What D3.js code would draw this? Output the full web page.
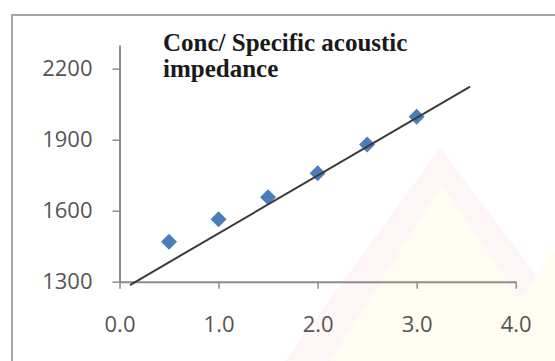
<!DOCTYPE html>
<html>
<head>
<meta charset="utf-8">
<script src="https://cdn.jsdelivr.net/npm/d3@7"></script>
<style>
  html, body { margin: 0; padding: 0; background: #ffffff; }
  svg { display: block; }
</style>
</head>
<body>
<svg id="chart" width="555" height="361"></svg>
<script>
// Concentration vs specific acoustic impedance
const conc = [0.5, 1.0, 1.5, 2.0, 2.5, 3.0];
const impedance = [1469, 1564, 1657, 1758, 1880, 1997];

// straight reference line drawn through the series
const lineConc = [0.106, 3.54];
const lineImpedance = [1286, 2124];

const xTicks = [0, 1, 2, 3, 4];
const yTicks = [1300, 1600, 1900, 2200];
const titleLines = ["Conc/ Specific acoustic", "impedance"];

const svg = d3.select("#chart");

// chart area frame
svg.append("rect")
  .attr("x", 12).attr("y", 15)
  .attr("width", 560).attr("height", 360)
  .attr("fill", "#ffffff")
  .attr("stroke", "#a6a6a6")
  .attr("stroke-width", 2);

// faint background emblem
const bg = svg.append("g").attr("pointer-events", "none");
bg.append("path")
  .attr("d", "M285,361 L440,148 L555,300 L555,361 Z")
  .attr("fill", "#fef6f6");
bg.append("path")
  .attr("d", "M330,361 L442,185 L520,300 L555,250 L555,361 Z")
  .attr("fill", "#fffdf1");

const x = d3.scaleLinear().domain([0, 4]).range([119.5, 515.7]);
const y = d3.scaleLinear().domain([1300, 2300]).range([281.7, 45]);

const axisColor = "#8c8c8c";
const labelColor = "#555555";
const tickFont = "'Open Sans', sans-serif";

// y axis
const gy = svg.append("g")
  .attr("transform", `translate(${x(0)},0)`)
  .call(d3.axisLeft(y).tickValues(yTicks).tickSize(7).tickPadding(20)
    .tickFormat(d3.format("d")).tickSizeOuter(0));
gy.select(".domain").attr("stroke", axisColor).attr("stroke-width", 2);
gy.selectAll(".tick line").attr("stroke", axisColor).attr("stroke-width", 1.5);
gy.selectAll(".tick text")
  .attr("fill", labelColor)
  .style("font-family", tickFont)
  .style("font-size", "22px");

// x axis
const gx = svg.append("g")
  .attr("transform", `translate(0,${y(1300)})`)
  .call(d3.axisBottom(x).tickValues(xTicks).tickSize(7).tickPadding(26)
    .tickFormat(d3.format(".1f")).tickSizeOuter(0));
gx.select(".domain").attr("stroke", axisColor).attr("stroke-width", 2);
gx.selectAll(".tick line").attr("stroke", axisColor).attr("stroke-width", 1.5);
gx.selectAll(".tick text")
  .attr("fill", labelColor)
  .attr("dy", "0.32em")
  .attr("y", 43)
  .style("font-family", tickFont)
  .style("font-size", "22px");

// series markers (diamonds)
svg.append("g")
  .selectAll("path")
  .data(conc.map((c, i) => [c, impedance[i]]))
  .join("path")
  .attr("d", d3.symbol().type(d3.symbolSquare).size(128))
  .attr("transform", d => `translate(${x(d[0])},${y(d[1])}) rotate(45)`)
  .attr("fill", "#4a7ebb");

// reference line
svg.append("path")
  .datum(lineConc.map((c, i) => [c, lineImpedance[i]]))
  .attr("d", d3.line().x(d => x(d[0])).y(d => y(d[1])))
  .attr("fill", "none")
  .attr("stroke", "#3a3a3a")
  .attr("stroke-width", 2);

// title
svg.append("text")
  .attr("x", 163).attr("y", 51)
  .attr("fill", "#1a1a1a")
  .style("font-family", "'Liberation Serif', 'Times New Roman', serif")
  .style("font-weight", "bold")
  .style("font-size", "25px")
  .selectAll("tspan")
  .data(titleLines)
  .join("tspan")
  .attr("x", 163)
  .attr("dy", (d, i) => i === 0 ? 0 : 26)
  .text(d => d);
</script>
</body>
</html>
